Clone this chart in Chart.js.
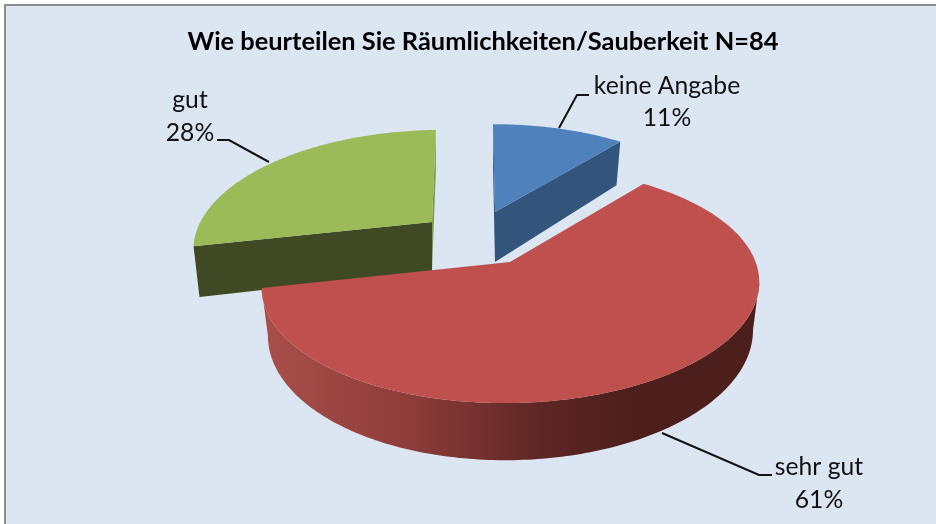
<!DOCTYPE html>
<html><head><meta charset="utf-8">
<script src="https://cdn.jsdelivr.net/npm/chart.js@4"></script>
<style>
html,body{margin:0;padding:0;background:#fff;overflow:hidden}
#frame{position:absolute;left:4px;top:4px;width:940px;height:530px;box-sizing:border-box;border-left:2px solid #8c8c8c;border-top:2px solid #8c8c8c;background:#dce6f2}
canvas{position:absolute;left:0;top:0}
</style></head><body>
<div id="frame"></div>
<canvas id="c" width="936" height="524"></canvas>
<script>
const chartTitle = 'Wie beurteilen Sie Räumlichkeiten/Sauberkeit N=84';
const categories = ['keine Angabe', 'sehr gut', 'gut'];
const shares = [11, 61, 28];
const sliceColors = ['#4f81bd', '#c0504d', '#9bbb59'];

// 3D look of every slice: apex, radii, perspective, shears, depth
const views = [
  {cx:495, cy:212, rx:229, ry:105,   p:.195, s:.023,  t:0,     d:50, k:.03,  near:'#33557c', far:'#2c4d75', wall:'#33557c'},
  {cx:510, cy:262, rx:244, ry:113.5, p:.195, s:.02,   t:-.016, d:46, k:.025, near:'#4c1f1d', far:'#4c1f1d', wall:null},
  {cx:432, cy:222, rx:233, ry:110,   p:.195, s:-.043, t:-.012, d:49, k:.025, near:'#7f9b49', far:'#3f4923', wall:'#3f4923'}
];
const paintOrder = [0, 2, 1];
const redStops = [[0,'#a94f4b'],[.3,'#8d3c39'],[.55,'#5f2725'],[.75,'#4c1f1d'],[1,'#4c1f1d']];
const callouts = [
  {tx:667, y1:86,  y2:118, line:[[589,95],[577,95],[559,128]]},
  {tx:819, y1:467, y2:500, line:[[772,475],[759,475],[662,433]]},
  {tx:190, y1:100, y2:133, line:[[217,140],[229,140],[269,162]]}
];

function project(view, u, v, low) {
  const w = 1 - view.p * v;
  const yTop = view.ry * v / w;
  const xTop = view.rx * u / w;
  let x = xTop + view.s * yTop;
  let y = yTop + view.t * xTop;
  if (low) { x -= x * view.k; y += view.d / w; }
  return [view.cx + x, view.cy + y];
}
function rim(el, view, low, n) {
  const pts = [];
  for (let i = 0; i <= n; i++) {
    const a = el.startAngle + (el.endAngle - el.startAngle) * i / n;
    pts.push(project(view, Math.cos(a), Math.sin(a), low));
  }
  return pts;
}
function trace(ctx, pts) {
  pts.forEach((p, i) => i ? ctx.lineTo(p[0], p[1]) : ctx.moveTo(p[0], p[1]));
  ctx.closePath();
}
function poly(ctx, pts, fill) {
  ctx.beginPath();
  trace(ctx, pts);
  ctx.fillStyle = fill;
  ctx.fill();
}

const pie3d = {
  id: 'pie3d',
  beforeDatasetDraw(chart) {
    const ctx = chart.ctx;
    const meta = chart.getDatasetMeta(0);
    const colors = chart.data.datasets[0].backgroundColor;
    const grad = ctx.createLinearGradient(262, 0, 760, 0);
    redStops.forEach(s => grad.addColorStop(s[0], s[1]));
    paintOrder.forEach(i => {
      const el = meta.data[i], view = views[i];
      const n = Math.max(24, Math.round((el.endAngle - el.startAngle) * 60));
      const top = rim(el, view, false, n), low = rim(el, view, true, n);
      const apexT = project(view, 0, 0, false), apexL = project(view, 0, 0, true);
      // outer wall: only the segments that face the viewer, in one path
      ctx.beginPath();
      for (let j = 0; j < n; j++) {
        if (top[j+1][0] < top[j][0]) trace(ctx, [top[j], top[j+1], low[j+1], low[j]]);
      }
      ctx.fillStyle = view.wall ? view.wall : grad;
      ctx.fill();
      // cut faces
      if (view.wall) {
        poly(ctx, [apexT, top[n], low[n], apexL], view.near);
        poly(ctx, [apexT, top[0], low[0], apexL], view.far);
      }
      // top face
      poly(ctx, [apexT].concat(top), colors[i]);
    });
    return false;
  },
  afterDraw(chart) {
    const ctx = chart.ctx;
    const values = chart.data.datasets[0].data;
    ctx.save();
    ctx.font = '24.7px Lato';
    ctx.textAlign = 'center';
    ctx.textBaseline = 'middle';
    callouts.forEach((c, i) => {
      ctx.fillStyle = '#111';
      ctx.fillText(chart.data.labels[i], c.tx, c.y1);
      ctx.fillText(values[i] + '%', c.tx, c.y2);
      ctx.beginPath();
      c.line.forEach((p, j) => j ? ctx.lineTo(p[0], p[1]) : ctx.moveTo(p[0], p[1]));
      ctx.strokeStyle = '#111'; ctx.lineWidth = 2;
      ctx.stroke();
    });
    ctx.restore();
  }
};

new Chart(document.getElementById('c'), {
  type: 'pie',
  data: { labels: categories, datasets: [{ data: shares, backgroundColor: sliceColors, borderWidth: 0 }] },
  options: {
    responsive: false,
    animation: false,
    rotation: 0,
    layout: { padding: { left: 30, top: 27 } },
    plugins: {
      legend: { display: false },
      tooltip: { enabled: false },
      title: { display: true, text: chartTitle, color: '#000', font: { family: 'Lato', size: 25.4, weight: 'bold' }, padding: 0 }
    }
  },
  plugins: [pie3d]
});
</script>
</body></html>
